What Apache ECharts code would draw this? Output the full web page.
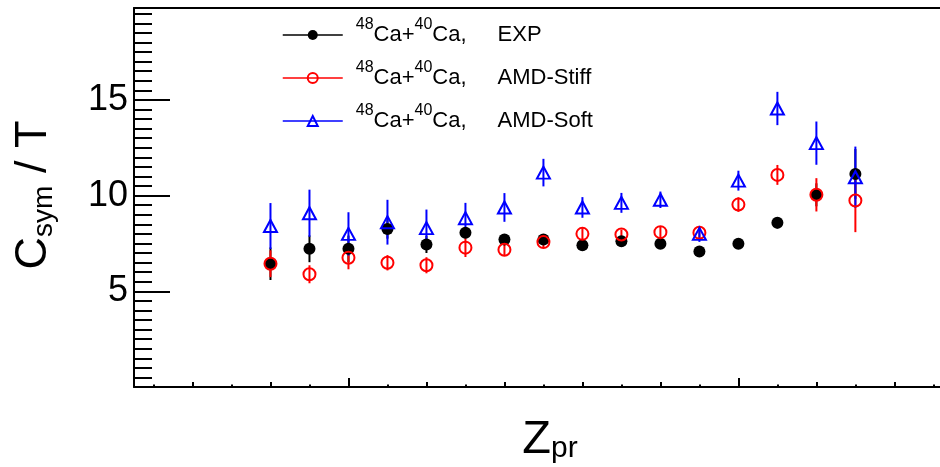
<!DOCTYPE html>
<html>
<head>
<meta charset="utf-8">
<script src="https://cdn.jsdelivr.net/npm/echarts@6/dist/echarts.min.js"></script>
<style>
  html, body { margin: 0; padding: 0; background: #fff; }
  #chart { width: 940px; height: 467px; }
</style>
</head>
<body>
<div id="chart"></div>
<script>
// 数据
const zList = [8, 9, 10, 11, 12, 13, 14, 15, 16, 17, 18, 19, 20, 21, 22, 23];
// EXP
const expVal = [6.44, 7.22, 7.22, 8.25, 7.45, 8.06, 7.71, 7.71, 7.40, 7.62, 7.48, 7.08, 7.48, 8.58, 10.04, 11.13];
const expErr = [0.85, 0.70, 0.69, 0.50, 0.45, 0.30, 0.25, 0.25, 0.25, 0.25, 0.25, 0.25, 0.25, 0.30, 0.60, 1.30];
// AMD-Stiff
const stiffVal = [6.44, 5.89, 6.75, 6.49, 6.36, 7.28, 7.17, 7.57, 8.00, 7.97, 8.09, 8.06, 9.53, 11.08, 10.04, 9.74];
const stiffErr = [0.70, 0.47, 0.60, 0.40, 0.42, 0.49, 0.30, 0.30, 0.30, 0.25, 0.30, 0.30, 0.38, 0.52, 0.87, 1.65];
// AMD-Soft
const softVal = [8.41, 9.08, 8.00, 8.61, 8.30, 8.82, 9.38, 11.20, 9.38, 9.62, 9.78, 8.00, 10.78, 14.55, 12.74, 10.96];
const softErr = [1.20, 1.23, 1.13, 1.17, 0.97, 0.80, 0.75, 0.72, 0.54, 0.52, 0.43, 0.42, 0.52, 0.87, 1.13, 1.60];
// 刻度
const yLabels = [5, 10, 15];
const xTicksMajor = [10, 20];
const xTicksMid = [6, 8, 10, 12, 14, 16, 18, 20, 22, 24];
const xTicksSmall = [5, 6, 7, 8, 9, 10, 11, 12, 13, 14, 15, 16, 17, 18, 19, 20, 21, 22, 23, 24, 25];

const FONT = 'Liberation Sans, Arial, Helvetica, sans-serif';
const X_MIN = 4.5, X_MAX = 25.17, Y_MIN = 0, Y_MAX = 19.8;

const points = (vals) => zList.map((z, i) => [z, vals[i]]);
const bars = (vals, errs) => zList.map((z, i) => [z, vals[i] - errs[i], vals[i] + errs[i]]);

// 误差棒
const errRender = (color) => (params, api) => {
  const p1 = api.coord([api.value(0), api.value(1)]);
  const p2 = api.coord([api.value(0), api.value(2)]);
  return {
    type: 'line',
    shape: { x1: p1[0], y1: p1[1], x2: p2[0], y2: p2[1] },
    style: { stroke: color, lineWidth: 2 }
  };
};

const errSeries = (name, vals, errs, color) => ({
  name: name,
  type: 'custom',
  renderItem: errRender(color),
  data: bars(vals, errs),
  encode: { x: 0, y: [1, 2] },
  silent: true
});

const xAxisBase = (extra) => Object.assign({
  type: 'value',
  min: X_MIN,
  max: X_MAX,
  position: 'bottom',
  splitLine: { show: false },
  axisLabel: { show: false },
  axisLine: { show: false },
  axisTick: { show: false }
}, extra);

const yAxisBase = (extra) => Object.assign({
  type: 'value',
  min: Y_MIN,
  max: Y_MAX,
  position: 'left',
  splitLine: { show: false },
  axisLabel: { show: false },
  axisLine: { show: false },
  axisTick: { show: false }
}, extra);

const tick = (len, values) => {
  const t = { show: true, inside: true, length: len, lineStyle: { color: '#000', width: 2 } };
  if (values) t.customValues = values;
  return t;
};

const chart = echarts.init(document.getElementById('chart'));

const option = {
  animation: false,
  backgroundColor: '#fff',
  grid: { left: 134, right: 0, top: 8, bottom: 80, containLabel: false },
  xAxis: [
    xAxisBase({ axisLine: { show: true, lineStyle: { color: '#000', width: 2 } }, axisTick: tick(2.5, xTicksSmall) }),
    xAxisBase({ axisTick: tick(5, xTicksMid) }),
    xAxisBase({ axisTick: tick(9, xTicksMajor) }),
    xAxisBase({ position: 'top', axisLine: { show: true, lineStyle: { color: '#000', width: 2 } } })
  ],
  yAxis: [
    yAxisBase({
      interval: 5,
      axisLine: { show: true, lineStyle: { color: '#000', width: 2 } },
      axisTick: tick(36),
      axisLabel: {
        show: true,
        margin: 6,
        color: '#000',
        fontSize: 36,
        fontFamily: FONT,
        formatter: (v) => (yLabels.indexOf(v) >= 0 ? String(v) : '')
      }
    }),
    yAxisBase({ interval: 0.5, axisTick: tick(18) })
  ],
  legend: {
    data: ['EXP', 'AMD-Stiff', 'AMD-Soft'],
    orient: 'vertical',
    left: 282,
    top: 17,
    padding: 0,
    itemWidth: 60,
    itemHeight: 12.5,
    itemGap: 14,
    selectedMode: false,
    lineStyle: { width: 1.5, opacity: 1 },
    formatter: (name) => '{g| }{s|48}{t|Ca+}{s|40}{t|Ca,}{g2| }{t|' + name + '}',
    textStyle: {
      color: '#000',
      fontFamily: FONT,
      rich: {
        t: { fontSize: 22, lineHeight: 36, fontFamily: FONT, color: '#000' },
        s: { fontSize: 16, lineHeight: 15, verticalAlign: 'top', fontFamily: FONT, color: '#000' },
        g: { width: 8, fontSize: 10, lineHeight: 10 },
        g2: { width: 31, fontSize: 10, lineHeight: 10 }
      }
    }
  },
  graphic: [
    {
      type: 'text',
      x: 34,
      y: 195,
      rotation: Math.PI / 2,
      style: {
        text: '{c|C}{s|sym}{c| / T}',
        align: 'center',
        verticalAlign: 'middle',
        fill: '#000',
        rich: {
          c: { fontSize: 45, lineHeight: 48, fontFamily: FONT, fill: '#000' },
          s: { fontSize: 28, lineHeight: 28, verticalAlign: 'bottom', fontFamily: FONT, fill: '#000' }
        }
      }
    },
    {
      type: 'text',
      x: 550,
      y: 440,
      style: {
        text: '{c|Z}{s|pr}',
        align: 'center',
        verticalAlign: 'middle',
        fill: '#000',
        rich: {
          c: { fontSize: 47, lineHeight: 48, fontFamily: FONT, fill: '#000' },
          s: { fontSize: 30, lineHeight: 29, verticalAlign: 'bottom', fontFamily: FONT, fill: '#000' }
        }
      }
    }
  ],
  series: [
    errSeries('EXP-err', expVal, expErr, '#000'),
    {
      name: 'EXP',
      type: 'line',
      data: points(expVal),
      color: '#000',
      symbol: 'circle',
      symbolSize: 12,
      itemStyle: { color: '#000' },
      lineStyle: { color: '#000', opacity: 0 }
    },
    errSeries('Stiff-err', stiffVal, stiffErr, '#ff0000'),
    {
      name: 'AMD-Stiff',
      type: 'line',
      data: points(stiffVal),
      color: '#ff0000',
      symbol: 'circle',
      symbolSize: 12,
      itemStyle: { color: 'rgba(255,255,255,0)', borderColor: '#ff0000', borderWidth: 2 },
      lineStyle: { color: '#ff0000', opacity: 0 }
    },
    errSeries('Soft-err', softVal, softErr, '#0000ff'),
    {
      name: 'AMD-Soft',
      type: 'line',
      data: points(softVal),
      color: '#0000ff',
      symbol: 'triangle',
      symbolSize: [13, 12],
      itemStyle: { color: 'rgba(255,255,255,0)', borderColor: '#0000ff', borderWidth: 2 },
      lineStyle: { color: '#0000ff', opacity: 0 }
    }
  ]
};

chart.setOption(option);
</script>
</body>
</html>
